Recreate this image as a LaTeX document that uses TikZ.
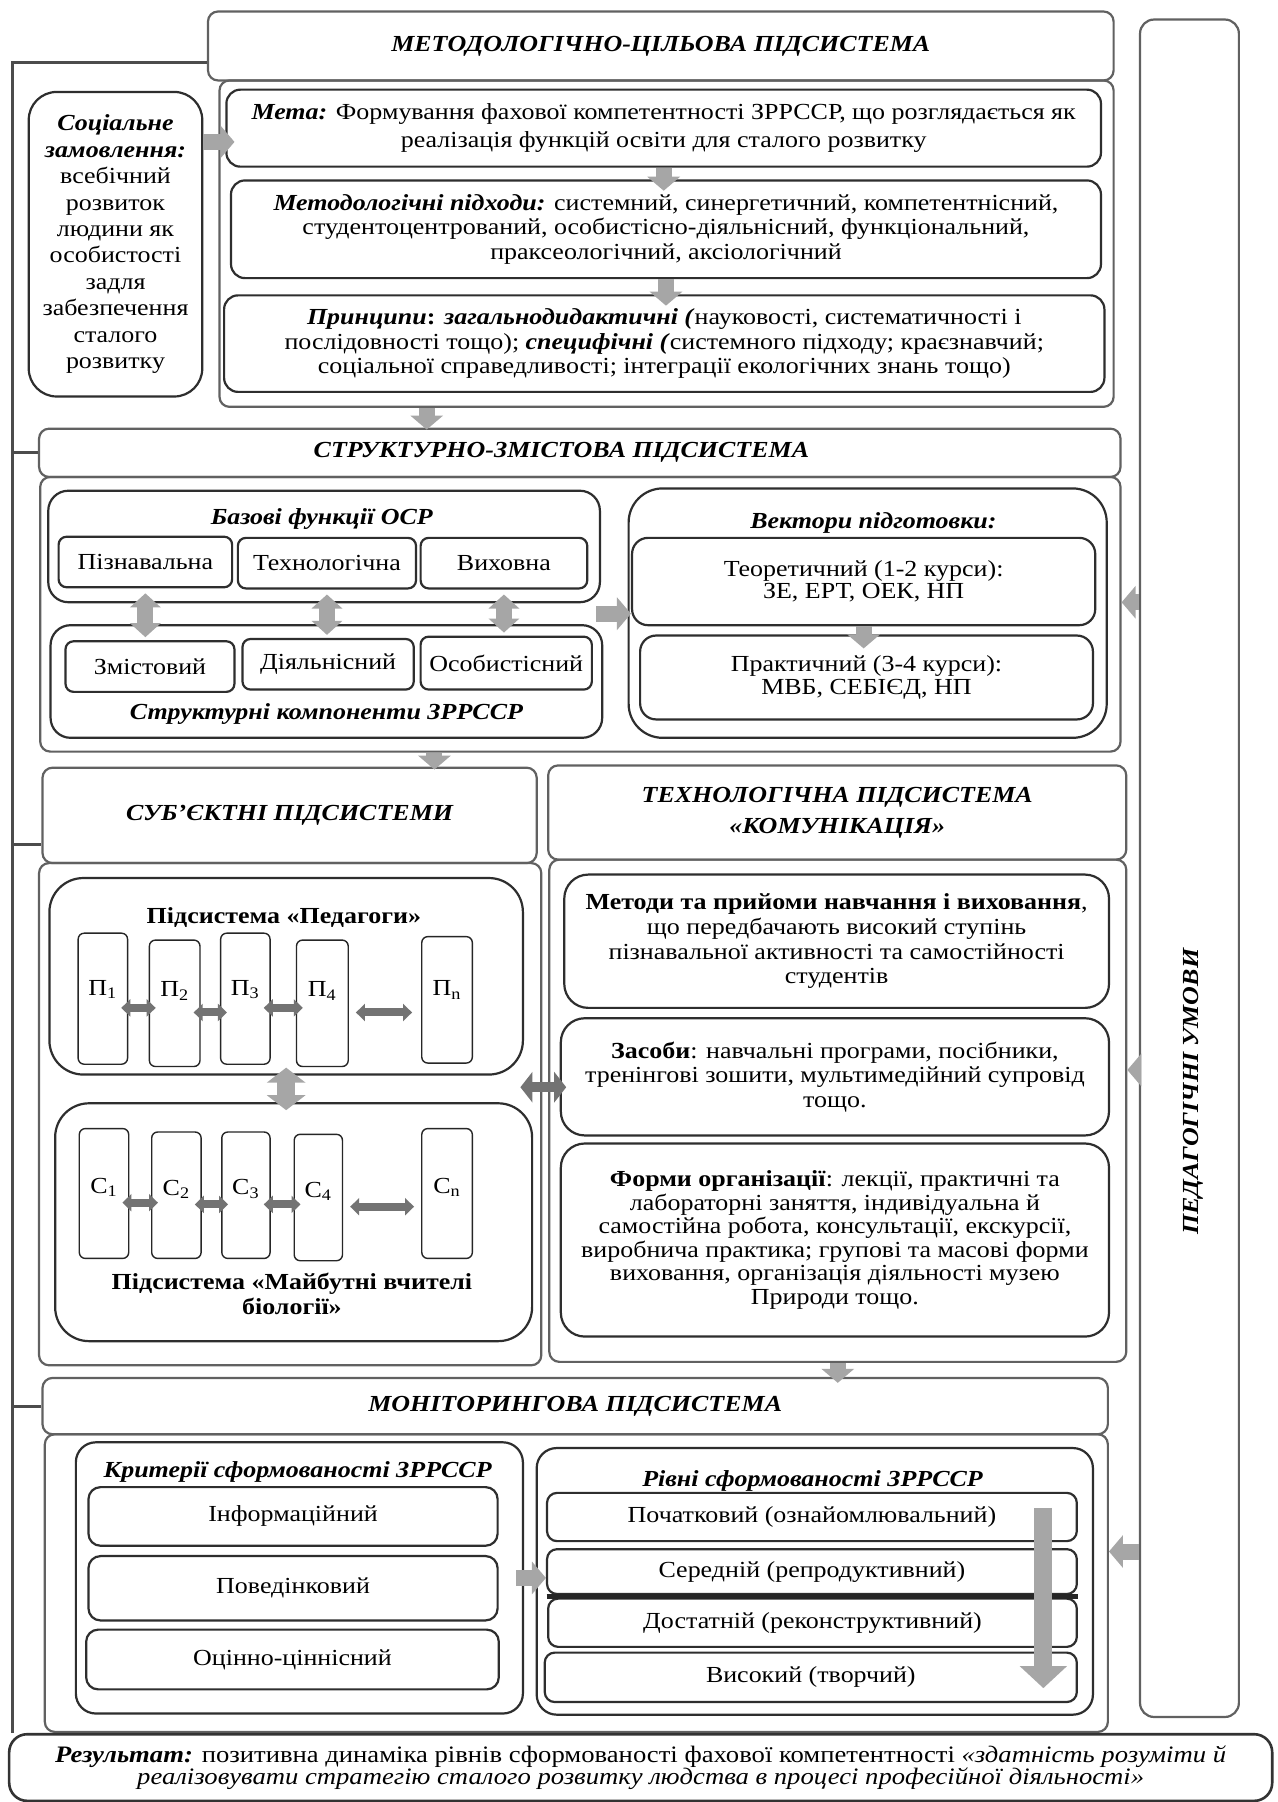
\documentclass[tikz,border=0pt]{standalone}
\usepackage{fontspec}
\setmainfont[FakeStretch=1.13]{Liberation Serif}
\usetikzlibrary{arrows.meta,calc}

\newcommand{\bfit}[1]{\textbf{\textit{#1}}}

\tikzset{
  % a node spanning the corners (x1,y1)-(x2,y2), in picture units
  bx/.style n args={4}{at={({(#1+#3)/2},{(#2+#4)/2})},
    minimum width={(#3-#1)*0.575pt}, minimum height={(#4-#2)*0.575pt}},
  frame/.style={draw=black!62, line width=1.1pt, rounded corners=#1, inner sep=0pt, align=center},
  frame/.default=5pt,
  box/.style={draw=black!82, line width=1.1pt, inner sep=0pt, align=center, rounded corners=#1},
  box/.default=7pt,
  pillar/.style={draw=black!85, line width=0.7pt, rounded corners=3pt, inner sep=0pt},
  lbl/.style={inner sep=1pt, align=center},
  hdr/.style={font=\fontsize{11.5}{15.5}\selectfont\bfseries\itshape},
  ttl/.style={inner sep=1pt, font=\fontsize{11.5}{12.3}\selectfont\bfseries\itshape},
  spine/.style={draw=black!70, line width=1.5pt},
  garrow/.style={draw=black!35, line width=8pt, -{Triangle[width=16pt,length=7pt]}},
  vdouble/.style={draw=black!35, line width=8pt, {Triangle[width=15pt,length=7pt]}-{Triangle[width=15pt,length=7pt]}},
  vdoublebig/.style={draw=black!35, line width=9pt, {Triangle[width=19pt,length=7.5pt]}-{Triangle[width=19pt,length=7.5pt]}},
  darrow/.style={draw=black!55, line width=4pt, {Triangle[width=8.5pt,length=4.5pt]}-{Triangle[width=8.5pt,length=4.5pt]}},
  darrowbig/.style={draw=black!55, line width=5pt, {Triangle[width=15pt,length=6pt]}-{Triangle[width=15pt,length=6pt]}},
  bigdown/.style={draw=black!35, line width=9pt, -{Triangle[width=23pt,length=11pt]}},
}

\begin{document}
\begin{tikzpicture}[x=0.575pt, y=-0.575pt, every node/.style={font=\fontsize{11.5}{12.3}\selectfont}]
\useasboundingbox (0,0) rectangle (1112,1568);
\fill[white] (0,0) rectangle (1112,1568);

% ---------- methodological / goal subsystem ----------
\node[frame, bx={191}{70}{969}{354}] (c1) {};
\node[frame, hdr, bx={181}{10}{969}{70}] (h1) {МЕТОДОЛОГІЧНО-ЦІЛЬОВА ПІДСИСТЕМА};
\node[box=14pt, bx={25}{80}{176}{345}, font=\fontsize{11.5}{13.2}\selectfont] (soc)
  {\bfit{Соціальне}\\ \bfit{замовлення:}\\ всебічний\\ розвиток\\ людини як\\ особистості\\ задля\\ забезпечення\\ сталого\\ розвитку};
\node[box, bx={197}{78}{958}{145}, font=\fontsize{11.5}{13.8}\selectfont] (meta)
  {\bfit{Мета:} Формування фахової компетентності ЗРРССР, що розглядається як\\ реалізація функцій освіти для сталого розвитку};
\node[box, bx={201}{157}{958}{242}] (meth)
  {\bfit{Методологічні підходи:} системний, синергетичний, компетентнісний,\\ студентоцентрований, особистісно-діяльнісний, функціональний,\\ праксеологічний, аксіологічний};
\node[box, bx={195}{257}{961}{341}] (princ)
  {\bfit{Принципи}\textbf{:} \bfit{загальнодидактичні (}науковості, систематичності і\\ послідовності тощо); \bfit{специфічні (}системного підходу; краєзнавчий;\\ соціальної справедливості; інтеграції екологічних знань тощо)};

% ---------- structural / content subsystem ----------
\node[frame, bx={35}{415}{975}{654}] (c2) {};
\node[frame, hdr, bx={34}{373}{975}{415}] (h2) {СТРУКТУРНО-ЗМІСТОВА ПІДСИСТЕМА\hspace*{18.4pt}};
\node[box=10pt, bx={42}{427}{522}{524}] (basef) {};
\node[ttl] (baset) at (280,452) {Базові функції ОСР};
\node[box=4pt, bx={51}{467}{202}{511}] (f1) {Пізнавальна};
\node[box=4pt, bx={207}{468}{362}{512}] (f2) {Технологічна};
\node[box=4pt, bx={366}{468}{511}{512}] (f3) {Виховна};
\node[box=10pt, bx={44}{544}{524}{642}] (strc) {};
\node[ttl] (strct) at (284,621) {Структурні компоненти ЗРРССР};
\node[box=4pt, bx={57}{558}{204}{602}] (s1) {Змістовий};
\node[box=4pt, bx={211}{556}{360}{600}] (s2) {Діяльнісний};
\node[box=4pt, bx={366}{554}{515}{600}] (s3) {Особистісний};
\node[box=17pt, bx={547}{425}{963}{642}] (vec) {};
\node[ttl] (vect) at (760,455) {Вектори підготовки:};
\node[box=8pt, bx={550}{468}{953}{544}, font=\fontsize{11.5}{11.2}\selectfont] (vt) {Теоретичний (1-2 курси):\\ ЗЕ, ЕРТ, ОЕК, НП};
\node[box=8pt, bx={557}{553}{951}{626}, font=\fontsize{11.5}{11.5}\selectfont] (vp) {Практичний (3-4 курси):\\ МВБ, СЕБІЄД, НП};

% ---------- subject subsystems ----------
\node[frame, bx={34}{751}{471}{1188}] (c3l) {};
\node[frame, hdr, bx={37}{668}{467}{751}] (h3l) {СУБ’ЄКТНІ ПІДСИСТЕМИ};
\node[box=17pt, bx={43}{764}{455}{935}] (pedg) {};
\node[lbl, font=\fontsize{11.5}{12.3}\selectfont\bfseries] (pedgt) at (247,798) {Підсистема «Педагоги»};
\node[pillar, bx={68}{812}{111}{926}] (pp1) {};
\node[pillar, bx={130}{818}{174}{928}] (pp2) {};
\node[pillar, bx={192}{812}{235}{926}] (pp3) {};
\node[pillar, bx={258}{818}{303}{928}] (pp4) {};
\node[pillar, bx={367}{815}{411}{925}] (ppn) {};
\node[lbl] (pp1t) at ([yshift=4.6pt]pp1.center) {П\textsubscript{1}};
\node[lbl] (pp2t) at ([yshift=6.3pt]pp2.center) {П\textsubscript{2}};
\node[lbl] (pp3t) at ([yshift=4.6pt]pp3.center) {П\textsubscript{3}};
\node[lbl] (pp4t) at ([yshift=6.3pt]pp4.center) {П\textsubscript{4}};
\node[lbl] (ppnt) at ([yshift=5pt]ppn.center) {П\textsubscript{n}};

\node[box=17pt, bx={48}{960}{463}{1167}] (stud) {};
\node[lbl, font=\fontsize{11.5}{12.8}\selectfont\bfseries] (studt) at (254,1126) {Підсистема «Майбутні вчителі\\ біології»};
\node[pillar, bx={69}{982}{112}{1095}] (sc1) {};
\node[pillar, bx={132}{985}{175}{1095}] (sc2) {};
\node[pillar, bx={193}{985}{235}{1095}] (sc3) {};
\node[pillar, bx={256}{987}{298}{1097}] (sc4) {};
\node[pillar, bx={367}{982}{411}{1095}] (scn) {};
\node[lbl] (sc1t) at ([yshift=3pt]sc1.center) {С\textsubscript{1}};
\node[lbl] (sc2t) at ([yshift=3pt]sc2.center) {С\textsubscript{2}};
\node[lbl] (sc3t) at ([yshift=3pt]sc3.center) {С\textsubscript{3}};
\node[lbl] (sc4t) at ([yshift=3pt]sc4.center) {С\textsubscript{4}};
\node[lbl] (scnt) at ([yshift=3pt]scn.center) {С\textsubscript{n}};

% ---------- technological subsystem ----------
\node[frame, bx={478}{748}{980}{1185}] (c3r) {};
\node[frame, hdr, bx={477}{666}{980}{748}] (h3r) {ТЕХНОЛОГІЧНА ПІДСИСТЕМА\\ «КОМУНІКАЦІЯ»};
\node[box=12pt, bx={491}{761}{965}{877}] (mtd)
  {\textbf{Методи та прийоми навчання і виховання},\\ що передбачають високий ступінь\\ пізнавальної активності та самостійності\\ студентів};
\node[box=12pt, bx={488}{886}{965}{988}] (zas)
  {\textbf{Засоби}: навчальні програми, посібники,\\ тренінгові зошити, мультимедійний супровід\\ тощо.};
\node[box=12pt, bx={488}{995}{965}{1163}, font=\fontsize{11.5}{11.8}\selectfont] (frm)
  {\textbf{Форми організації}: лекції, практичні та\\ лабораторні заняття, індивідуальна й\\ самостійна робота, консультації, екскурсії,\\ виробнича практика; групові та масові форми\\ виховання, організація діяльності музею\\ Природи тощо.};

% ---------- monitoring subsystem ----------
\node[frame, bx={39}{1248}{964}{1507}] (c4) {};
\node[frame, hdr, bx={37}{1199}{964}{1248}] (h4) {МОНІТОРИНГОВА ПІДСИСТЕМА};
\node[box=10pt, bx={66}{1255}{455}{1491}] (krit) {};
\node[ttl] (kritt) at (259,1281) {Критерії сформованості ЗРРССР};
\node[box=6pt, bx={77}{1294}{433}{1345}] (k1) {Інформаційний};
\node[box=6pt, bx={77}{1354}{433}{1410}] (k2) {Поведінковий};
\node[box=6pt, bx={75}{1418}{434}{1470}] (k3) {Оцінно-ціннісний};
\node[box=10pt, bx={467}{1260}{951}{1492}] (rivn) {};
\node[ttl] (rivnt) at (707,1289) {Рівні сформованості ЗРРССР};
\node[box=5pt, bx={476}{1299}{937}{1341}] (r1) {Початковий (ознайомлювальний)};
\node[box=5pt, bx={476}{1348}{937}{1387}] (r2) {Середній (репродуктивний)};
\node[box=5pt, bx={477}{1391}{937}{1433}] (r3) {Достатній (реконструктивний)};
\node[box=5pt, bx={474}{1438}{937}{1481}] (r4) {Високий (творчий)};
\draw[line width=2.5pt, black!85] ($(r2.south west)!0.5!(r3.north west)$) -- ($(r2.south east)!0.5!(r3.north east)$);

% ---------- result ----------
\node[frame=9pt, draw=black!80, line width=1.3pt, bx={8}{1509}{1107}{1567}, font=\fontsize{11.8}{11.2}\selectfont] (res)
  {\bfit{Результат:} позитивна динаміка рівнів сформованості фахової компетентності \textit{«здатність розуміти й}\\ \textit{реалізовувати стратегію сталого розвитку людства в процесі професійної діяльності»}};

% ---------- pedagogical conditions ----------
\node[frame=7pt, bx={992}{17}{1078}{1494}] (pedc) {};
\node[hdr, rotate=90] (pedct) at (1038,950) {ПЕДАГОГІЧНІ УМОВИ};

% ---------- left spine ----------
\coordinate (sp) at (11,54);
\draw[spine] (h1.west |- sp) -- (sp) -- (sp |- res.north);
\draw[spine] (sp |- h2.west) -- (h2.west);
\coordinate (t3) at ([yshift=-14.7pt]h3l.west);
\draw[spine] (sp |- t3) -- (t3);
\draw[spine] (sp |- h4.west) -- (h4.west);

% ---------- block arrows ----------
\coordinate (a1) at ([yshift=-6.9pt]meta.west);
\draw[garrow] (a1 -| soc.east) -- ([xshift=4.6pt]a1);
\draw[garrow, shorten >=-5.7pt] (meta.south) -- (meta.south |- meth.north);
\draw[garrow, shorten >=-5.7pt] (meth.south) -- (meth.south |- princ.north);
\coordinate (a2) at ([xshift=-120pt]c1.south);
\draw[garrow, shorten >=-1pt] (a2) -- (a2 |- h2.north);

\draw[vdouble, shorten <=2.5pt, shorten >=1.5pt] (f1.south) -- (f1.south |- s1.north);
\draw[vdouble, shorten <=2.5pt, shorten >=1.5pt] (f2.south) -- (f2.south |- s2.north);
\draw[vdouble, shorten <=2.5pt, shorten >=1.5pt] (f3.south) -- (f3.south |- s3.north);
\coordinate (a3) at ($(basef.south east)!0.5!(strc.north east)$);
\draw[garrow] ([xshift=-3pt]a3) -- (a3 -| vt.west);
\draw[garrow, shorten >=-7pt] (vt.south) -- (vt.south |- vp.north);
\coordinate (a4) at ([xshift=-73pt]c2.south);
\draw[garrow, shorten >=-1.5pt] (a4) -- (a4 |- h3l.north);

\draw[darrow, transform canvas={yshift=-4.6pt}, shorten <=-3.5pt, shorten >=-3.5pt] (pp1.east) -- (pp1.east -| pp2.west);
\draw[darrow, transform canvas={yshift=-4.6pt}, shorten <=-3.5pt, shorten >=-3.5pt] (pp2.east) -- (pp2.east -| pp3.west);
\draw[darrow, transform canvas={yshift=-4.6pt}, shorten <=-3.5pt, shorten >=-3.5pt] (pp3.east) -- (pp3.east -| pp4.west);
\draw[darrow, transform canvas={yshift=-4.6pt}, shorten <=3.5pt, shorten >=4.5pt] (pp4.east) -- (pp4.east -| ppn.west);
\draw[darrow, transform canvas={yshift=-4.6pt}, shorten <=-3.5pt, shorten >=-3.5pt] (sc1.east) -- (sc1.east -| sc2.west);
\draw[darrow, transform canvas={yshift=-4.6pt}, shorten <=-3.5pt, shorten >=-3.5pt] (sc2.east) -- (sc2.east -| sc3.west);
\draw[darrow, transform canvas={yshift=-4.6pt}, shorten <=-3.5pt, shorten >=-3.5pt] (sc3.east) -- (sc3.east -| sc4.west);
\draw[darrow, transform canvas={yshift=-4.6pt}, shorten <=3.5pt, shorten >=3.5pt] (sc4.east) -- (sc4.east -| scn.west);
\draw[vdoublebig, shorten <=-4pt, shorten >=-4pt] (pedg.south) -- (pedg.south |- stud.north);
\draw[darrowbig, transform canvas={yshift=13.5pt}, shorten <=-11pt, shorten >=-9pt] (c3l.east) -- (c3l.east -| c3r.west);

\draw[garrow, shorten >=-3pt] (c3r.south) -- (c3r.south |- h4.north);
\draw[garrow, shorten <=-4pt] (krit.east) -- (krit.east -| r2.west);
\coordinate (bd1) at ([xshift=-17.3pt, yshift=-8pt]r1.north east);
\coordinate (bd2) at ([xshift=-17.3pt, yshift=7.5pt]r4.south east);
\draw[bigdown] (bd1) -- (bd2);

\coordinate (q1) at ([yshift=6pt]c2.east);
\draw[garrow] (q1 -| pedc.west) -- (q1);
\coordinate (q2) at ([yshift=20.4pt]c3r.east);
\draw[garrow] (q2 -| pedc.west) -- (q2);
\coordinate (q3) at ([yshift=15.8pt]c4.east);
\draw[garrow] (q3 -| pedc.west) -- (q3);
\end{tikzpicture}
\end{document}
